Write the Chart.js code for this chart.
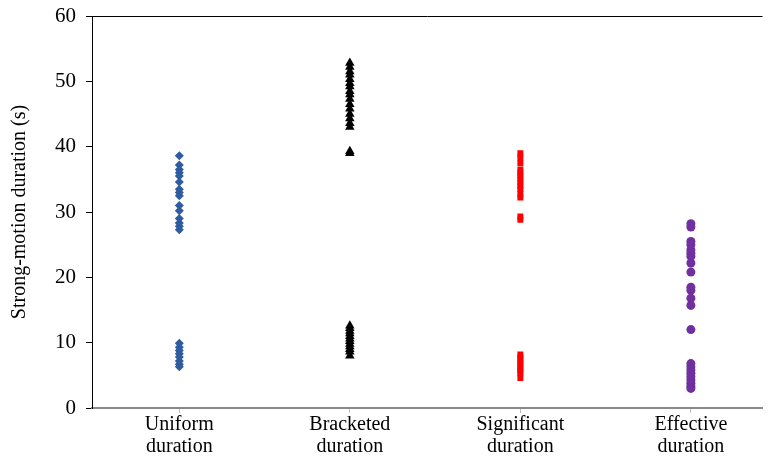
<!DOCTYPE html>
<html>
<head>
<meta charset="utf-8">
<script src="https://cdn.jsdelivr.net/npm/chart.js@4/dist/chart.umd.min.js"></script>
<style>
  html, body { margin: 0; padding: 0; background: #fff; }
  #wrap { width: 768px; height: 464px; }
</style>
</head>
<body>
<div id="wrap"><canvas id="durations"></canvas></div>
<script>
const categories = [['Uniform', 'duration'], ['Bracketed', 'duration'], ['Significant', 'duration'], ['Effective', 'duration']];

const uniformDur = [38.6, 37.2, 36.5, 36.0, 35.5, 34.6, 33.5, 33.0, 32.5, 31.0, 30.2, 29.0, 28.3, 27.8, 27.3,
  9.9, 9.3, 8.8, 8.3, 7.8, 7.2, 6.7, 6.3];
const bracketedDur = [52.8, 52.2, 51.5, 51.0, 50.3, 49.7, 49.2, 48.5, 48.0, 47.3, 46.5, 45.8, 45.0, 44.3, 43.6, 43.0,
  39.3, 39.0,
  12.6, 12.2, 11.8, 11.4, 11.0, 10.6, 10.2, 9.8, 9.4, 9.0, 8.6, 8.0];
const significantDur = [39.0, 38.3, 37.5, 36.5, 36.0, 35.5, 35.0, 34.5, 34.0, 33.5, 32.8, 32.2,
  29.3, 28.8,
  8.2, 7.7, 7.3, 6.9, 6.5, 6.1, 5.7, 5.3, 4.6];
const effectiveDur = [28.2, 27.7, 25.5, 25.0, 24.2, 23.7, 23.2, 22.2, 20.8, 18.5, 18.0, 16.8, 15.7, 12.0,
  6.8, 6.3, 5.8, 5.3, 4.8, 4.3, 3.8, 3.3, 3.0];

const yTicks = [0, 10, 20, 30, 40, 50, 60];

function toPoints(values, idx) {
  return values.map(v => ({ x: idx + 1, y: v }));
}

const serif = 'Liberation Serif, Times New Roman, serif';

new Chart(document.getElementById('durations').getContext('2d'), {
  type: 'scatter',
  data: {
    datasets: [
      { label: 'Uniform', data: toPoints(uniformDur, 0), pointStyle: 'rectRot', pointRadius: 4.5,
        backgroundColor: '#2E5C9E', borderColor: '#2E5C9E', borderWidth: 0 },
      { label: 'Bracketed', data: toPoints(bracketedDur, 1), pointStyle: 'triangle', pointRadius: 5.5,
        backgroundColor: '#000', borderColor: '#000', borderWidth: 0 },
      { label: 'Significant', data: toPoints(significantDur, 2), pointStyle: 'rect', pointRadius: 4.2,
        backgroundColor: '#FF0000', borderColor: '#FF0000', borderWidth: 0 },
      { label: 'Effective', data: toPoints(effectiveDur, 3), pointStyle: 'circle', pointRadius: 4.5,
        backgroundColor: '#7030A0', borderColor: '#7030A0', borderWidth: 0 }
    ]
  },
  options: {
    responsive: true,
    maintainAspectRatio: false,
    animation: false,
    layout: { padding: { top: 16, right: 0, left: 0, bottom: 0 } },
    plugins: {
      legend: { display: false },
      tooltip: { enabled: false }
    },
    scales: {
      x: {
        type: 'linear',
        min: 0.488,
        max: 4.42,
        afterFit: s => { s.height = 56; s.paddingLeft = 0; s.paddingRight = 0; },
        afterBuildTicks: s => { s.ticks = categories.map((c, i) => ({ value: i + 1 })); },
        border: { color: '#8a8a8a', width: 2 },
        grid: { drawOnChartArea: false, drawTicks: true, tickLength: 5, color: '#bbb' },
        ticks: {
          color: '#000',
          padding: 1,
          maxRotation: 0,
          autoSkip: false,
          font: { family: serif, size: 20, lineHeight: 1.1 },
          callback: v => categories[v - 1]
        }
      },
      y: {
        min: 0,
        max: 60,
        afterFit: s => { s.width = 92; s.paddingTop = 0; s.paddingBottom = 0; },
        afterBuildTicks: s => { s.ticks = yTicks.map(v => ({ value: v })); },
        border: { color: '#000', width: 1 },
        grid: {
          color: c => (c.tick && c.tick.value === 60 ? '#000' : 'rgba(0,0,0,0)'),
          tickColor: '#000',
          tickLength: 6
        },
        ticks: {
          color: '#000',
          padding: 10,
          font: { family: serif, size: 21 }
        },
        title: {
          display: true,
          text: 'Strong-motion duration (s)',
          color: '#000',
          padding: { top: 8, bottom: 0 },
          font: { family: serif, size: 20 }
        }
      }
    }
  }
});
</script>
</body>
</html>
